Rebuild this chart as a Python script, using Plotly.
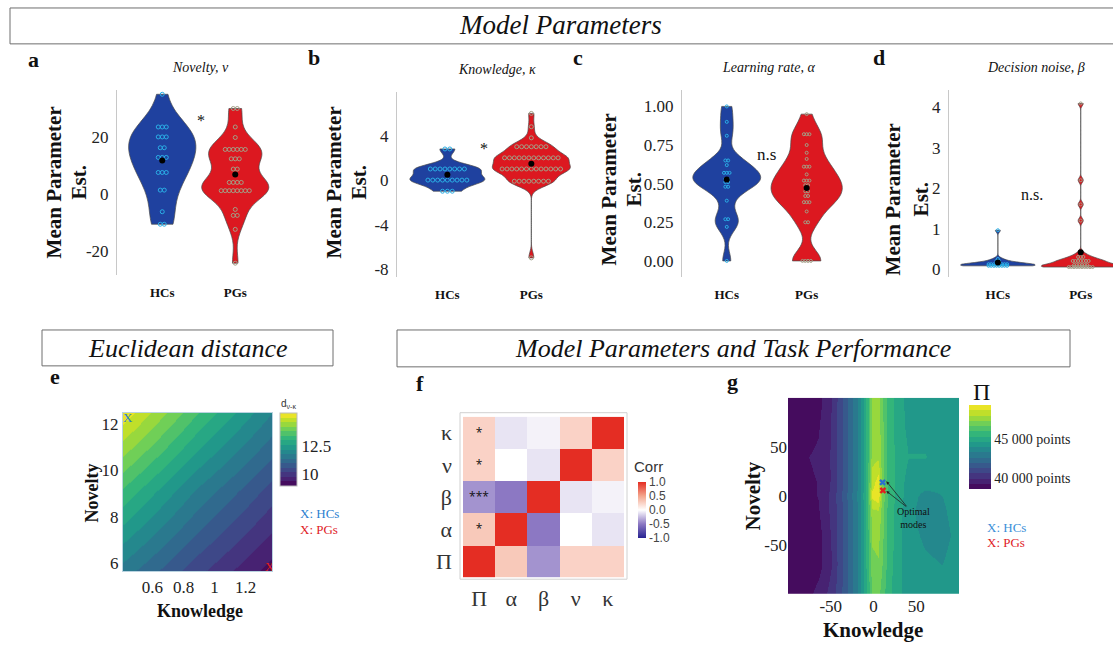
import plotly.graph_objects as go
from plotly.colors import sample_colorscale
from collections import Counter
import numpy as np

W, H = 1113, 645
SERIF = "Liberation Serif, Times New Roman, serif"
SANS = "Liberation Sans, Arial, sans-serif"

# ---------------- data ----------------
groups = ["HCs", "PGs"]

novelty_hc = [35.2, 23.7, 23.7, 23.7, 20.2, 20.2, 20.2, 16.4, 16.4, 13.0, 13.0, 13.0,
              7.7, 7.7, 7.7, 1.5, 1.5, -6.1, -10.5, -10.5]
novelty_pg = [30.2, 30.2, 23.7, 20.0, 15.8, 15.8, 15.8, 15.8, 15.8, 15.8, 12.5, 12.5, 12.5,
              8.9, 8.9, 4.2, 4.2, 4.2, 4.2, 1.3, 1.3, 1.3, 1.3, 1.3, 1.3, 1.3, 1.3,
              -5.3, -7.4, -7.4, -12.3, -24.2]

knowledge_hc = [2.8, 2.8] + [1.0] * 8 + [0.0] * 9 + [-1.0] * 3
knowledge_pg = [6.0, 4.8, 3.8] + [3.0] * 7 + [2.0] * 12 + [1.0] * 13 + [-0.1] * 8 + [-7.0]

lrate_hc = [1.0, 0.90, 0.81, 0.65, 0.65, 0.62, 0.57, 0.57, 0.57, 0.53, 0.53, 0.51, 0.51,
            0.48, 0.48, 0.39, 0.27, 0.27, 0.22, 0.0]
lrate_pg = [0.95, 0.82, 0.82, 0.82, 0.75, 0.70, 0.66, 0.61, 0.61, 0.61, 0.56, 0.52, 0.52,
            0.52, 0.49, 0.49, 0.45, 0.45, 0.42, 0.42, 0.38, 0.38, 0.38, 0.32, 0.25, 0.25,
            0.0, 0.0, 0.0, 0.0]

noise_hc = [0.96, 0.25, 0.2, 0.2] + [0.12] * 8 + [0.08] * 8
noise_pg = [4.1, 2.2, 1.6, 1.2, 0.4, 0.3, 0.3, 0.3] + [0.2] * 7 + [0.1] * 6 + [0.05] * 10

# panel e: euclidean distance surface (read at grid corners/midpoints)
e_knowledge = [0.41, 0.89, 1.37]
e_novelty = [5.66, 9.06, 12.47]
e_distance = [[11.6, 10.3, 9.2],
              [13.3, 11.7, 10.4],
              [15.3, 13.4, 11.8]]
e_hc_point = (0.44, 12.2)
e_pg_point = (1.355, 5.8)

# panel f: correlation matrix
corr_vars = ["Π", "α", "β", "ν", "κ"]
corr_values = [[1.00, 0.30, -0.40, 0.25, 0.25],
               [0.30, 1.00, -0.50, 0.00, -0.10],
               [-0.40, -0.50, 1.00, -0.10, -0.05],
               [0.25, 0.00, -0.10, 1.00, 0.25],
               [0.25, -0.10, -0.05, 0.25, 1.00]]
corr_stars = [["", "", "", "", ""],
              ["*", "", "", "", ""],
              ["***", "", "", "", ""],
              ["*", "", "", "", ""],
              ["*", "", "", "", ""]]

# panel g: performance landscape
g_knowledge = [-100, -82, -65, -50, -38, -27, -18, -12, -7, -2, 5, 10, 16, 25, 40, 60, 80, 100]
g_novelty = [-100, -70, -40, -15, 0, 15, 40, 70, 100]
g_points = [
    [38700, 38900, 39500, 40200, 41200, 42300, 43400, 44500, 45600, 46700, 46900, 46400, 45700, 45000, 44300, 44200, 44100, 44300],
    [38600, 38700, 39000, 39900, 41100, 42300, 43400, 44600, 45900, 47200, 47300, 46700, 45900, 45100, 44300, 44100, 44000, 44300],
    [38600, 38700, 39000, 40000, 41100, 42300, 43400, 44600, 46000, 47500, 47600, 46900, 46000, 45200, 44200, 43900, 43800, 44200],
    [38700, 38800, 39200, 40100, 41100, 42300, 43400, 44600, 46100, 47900, 48000, 47000, 46000, 45200, 44200, 43700, 43900, 44300],
    [38800, 39000, 39300, 40100, 41200, 42400, 43500, 44700, 46200, 48900, 49300, 47200, 46100, 45300, 44300, 43800, 44000, 44300],
    [38800, 39100, 39300, 40000, 41100, 42300, 43400, 44600, 46100, 48400, 49000, 47100, 46000, 45300, 44400, 44300, 44200, 44300],
    [38700, 39200, 39400, 40000, 41100, 42300, 43400, 44600, 46000, 47800, 47900, 47000, 46000, 45300, 44700, 44700, 44400, 44400],
    [38600, 38900, 39200, 40000, 41100, 42300, 43400, 44600, 46000, 47800, 47800, 46900, 46000, 45200, 44500, 44500, 44400, 44400],
    [38600, 38700, 39000, 39900, 41100, 42300, 43400, 44600, 45900, 47600, 47600, 46800, 45900, 45200, 44400, 44300, 44200, 44300],
]
g_hc_point = (10.6, 13.8)
g_pg_point = (11.0, 5.6)

# ---------------- helpers ----------------
def dxp(x0, x1):
    return [x0 / W, x1 / W]

def dyp(y0, y1):
    return [1 - y1 / H, 1 - y0 / H]

def px(x):
    return x / W

def py(y):
    return 1 - y / H


def stepped(name, n):
    cols = sample_colorscale(name, [(i + 0.5) / n for i in range(n)])
    cs = []
    for i, c in enumerate(cols):
        cs.append([i / n, c])
        cs.append([(i + 1) / n, c])
    return cs


BLUE = "#1f419f"
RED = "#dc1820"
DOT_HC = "#2aaee6"
DOT_PG = "#a39f86"

fig = go.Figure()


def axname(n):
    return ("x", "y") if n == 1 else (f"x{n}", f"y{n}")


def add_group(n, vals, xc, fill, dotc, width, bw, ddx, dsize=4):
    xa, ya = axname(n)
    fig.add_trace(go.Violin(
        x=[xc] * len(vals), y=vals, xaxis=xa, yaxis=ya, width=width, bandwidth=bw,
        spanmode="hard", fillcolor=fill, line=dict(color="#4a4a4a", width=0.7),
        points=False, box_visible=False, meanline_visible=False, scalemode="width",
        hoverinfo="skip", side="both"))
    cnt = Counter(vals)
    seen = {}
    xs = []
    for v in vals:
        i = seen.get(v, 0)
        seen[v] = i + 1
        xs.append(xc + (i - (cnt[v] - 1) / 2) * ddx)
    fig.add_trace(go.Scatter(x=xs, y=vals, xaxis=xa, yaxis=ya, mode="markers",
                             marker=dict(symbol="circle-open", size=dsize, color=dotc,
                                         line=dict(width=1, color=dotc)),
                             hoverinfo="skip"))
    fig.add_trace(go.Scatter(x=[xc], y=[float(np.mean(vals))], xaxis=xa, yaxis=ya,
                             mode="markers", marker=dict(size=6, color="black"),
                             hoverinfo="skip"))


# panel a
add_group(1, novelty_hc, 0, BLUE, DOT_HC, 0.92, 6.0, 0.055)
add_group(1, novelty_pg, 1, RED, DOT_PG, 0.92, 4.0, 0.055)
# panel b
add_group(2, knowledge_hc, 0, BLUE, DOT_HC, 0.89, 0.45, 0.058)
add_group(2, knowledge_pg, 1, RED, DOT_PG, 0.93, 0.5, 0.058)
# panel c
add_group(3, lrate_hc, 0, BLUE, DOT_HC, 0.85, 0.06, 0.035, 3)
add_group(3, lrate_pg, 1, RED, DOT_PG, 0.89, 0.07, 0.035, 3)
# panel d
add_group(4, noise_hc, 0, BLUE, DOT_HC, 0.90, 0.05, 0.032, 3)
add_group(4, noise_pg, 1, RED, DOT_PG, 0.95, 0.06, 0.032, 3)

# panel e (banded surface)
fig.add_trace(go.Heatmap(
    x=e_knowledge, y=e_novelty, z=e_distance, xaxis="x5", yaxis="y5",
    colorscale=stepped("Viridis", 16), zmin=9.0, zmax=15.4, zsmooth="best",
    hoverinfo="skip",
    colorbar=dict(x=px(280), xanchor="left", y=py(414), yanchor="top", len=73,
                  lenmode="pixels", thickness=17, xpad=0, ypad=0,
                  tickvals=[10, 12.5], ticktext=["10", "12.5"], ticks="",
                  tickfont=dict(family=SERIF, size=17, color="#222"),
                  outlinewidth=1, outlinecolor="#bbbbbb")))
fig.add_trace(go.Scatter(x=[e_hc_point[0]], y=[e_hc_point[1]], xaxis="x5", yaxis="y5",
                         mode="text", text=["X"], textfont=dict(family=SERIF, size=13, color="#2b7fd0"),
                         hoverinfo="skip"))
fig.add_trace(go.Scatter(x=[e_pg_point[0]], y=[e_pg_point[1]], xaxis="x5", yaxis="y5",
                         mode="text", text=["X"], textfont=dict(family=SERIF, size=13, color="#e0211f"),
                         hoverinfo="skip"))

# panel f
corr_scale = [[0.0, "rgb(40,35,145)"], [0.25, "rgb(140,120,195)"], [0.5, "rgb(255,255,255)"],
              [0.75, "rgb(244,165,140)"], [1.0, "rgb(228,45,35)"]]
fig.add_trace(go.Heatmap(
    z=corr_values, x=corr_vars, y=corr_vars, xaxis="x6", yaxis="y6",
    colorscale=corr_scale, zmin=-1, zmax=1, text=corr_stars, texttemplate="%{text}",
    textfont=dict(size=12, color="#111"), hoverinfo="skip",
    colorbar=dict(x=px(638), xanchor="left", y=py(483), yanchor="top", len=56,
                  lenmode="pixels", thickness=8, xpad=0, ypad=0, ticks="",
                  tickvals=[-1, -0.5, 0, 0.5, 1], ticktext=["-1.0", "-0.5", "0.0", "0.5", "1.0"],
                  tickfont=dict(family=SANS, size=12, color="#444"), outlinewidth=0)))

# panel g (banded surface)
fig.add_trace(go.Heatmap(
    x=g_knowledge, y=g_novelty, z=g_points, xaxis="x7", yaxis="y7",
    colorscale=stepped("Viridis", 16), zmin=38600, zmax=49400, zsmooth="best",
    hoverinfo="skip",
    colorbar=dict(x=px(969), xanchor="left", y=py(406), yanchor="top", len=84,
                  lenmode="pixels", thickness=22, xpad=0, ypad=0, ticks="",
                  tickvals=[40000, 45000], ticktext=["40 000 points", "45 000 points"],
                  tickfont=dict(family=SERIF, size=14, color="#222"), outlinewidth=0)))
fig.add_trace(go.Scatter(x=[g_hc_point[0]], y=[g_hc_point[1]], xaxis="x7", yaxis="y7",
                         mode="markers", marker=dict(symbol="x", size=6, color="#2b6fd0"),
                         hoverinfo="skip"))
fig.add_trace(go.Scatter(x=[g_pg_point[0]], y=[g_pg_point[1]], xaxis="x7", yaxis="y7",
                         mode="markers", marker=dict(symbol="x", size=6, color="#e0211f"),
                         hoverinfo="skip"))

# ---------------- axes ----------------
def cat_x(dom, rng):
    return dict(domain=dom, range=rng, tickvals=[0, 1], ticktext=["<b>HCs</b>", "<b>PGs</b>"],
                showline=False, showgrid=False, zeroline=False, ticks="",
                tickfont=dict(family=SERIF, size=13, color="#111"), ticklabelstandoff=8)


def val_y(dom, rng, tv, tt=None):
    d = dict(domain=dom, range=rng, tickvals=tv, showline=True, linecolor="#c8c8c8",
             linewidth=1, showgrid=False, zeroline=False, ticks="",
             tickfont=dict(family=SERIF, size=17, color="#222"), ticklabelstandoff=4)
    if tt:
        d["ticktext"] = tt
    return d


lay = dict(
    width=W, height=H, margin=dict(l=0, r=0, t=0, b=0), paper_bgcolor="white",
    plot_bgcolor="white", showlegend=False, violinmode="overlay",
)
lay["xaxis"] = dict(cat_x(dxp(117, 290), [-0.62, 1.75]), anchor="y")
lay["yaxis"] = dict(val_y(dyp(90, 276), [-28.4, 36.8], [-20, 0, 20], ["-20", "0", "20"]), anchor="x")
lay["xaxis2"] = dict(cat_x(dxp(397, 575), [-0.6, 1.52]), anchor="y2")
lay["yaxis2"] = dict(val_y(dyp(92, 278), [-8.73, 7.95], [-8, -4, 0, 4], ["-8", "-4", "0", "4"]), anchor="x2")
lay["xaxis3"] = dict(cat_x(dxp(682, 865), [-0.56, 1.73]), anchor="y3")
lay["yaxis3"] = dict(val_y(dyp(90, 278), [-0.105, 1.108], [0, 0.25, 0.5, 0.75, 1.0],
                           ["0.00", "0.25", "0.50", "0.75", "1.00"]), anchor="x3")
lay["xaxis4"] = dict(cat_x(dxp(949, 1113), [-0.59, 1.39]), anchor="y4")
lay["yaxis4"] = dict(val_y(dyp(90, 278), [-0.2, 4.44], [0, 1, 2, 3, 4]), anchor="x4")

lay["xaxis5"] = dict(domain=dxp(123, 272), range=[0.41, 1.37], anchor="y5",
                     tickvals=[0.6, 0.8, 1.0, 1.2], ticktext=["0.6", "0.8", "1", "1.2"],
                     showline=True, mirror=True, linecolor="#b9d3e0", showgrid=False,
                     zeroline=False, ticks="", tickfont=dict(family=SERIF, size=17, color="#222"))
lay["yaxis5"] = dict(domain=dyp(414, 573), range=[5.66, 12.47], anchor="x5",
                     tickvals=[6, 8, 10, 12], showline=True, mirror=True, linecolor="#b9d3e0",
                     showgrid=False, zeroline=False, ticks="",
                     tickfont=dict(family=SERIF, size=17, color="#222"))

lay["xaxis6"] = dict(domain=dxp(463, 624), range=[-0.5, 4.5], anchor="y6", type="category",
                     showline=False, showgrid=False, zeroline=False, ticks="",
                     tickfont=dict(family=SERIF, size=22, color="#333"), ticklabelstandoff=6)
lay["yaxis6"] = dict(domain=dyp(418, 579), range=[-0.5, 4.5], anchor="x6", type="category",
                     showline=False, showgrid=False, zeroline=False, ticks="",
                     tickfont=dict(family=SERIF, size=22, color="#333"), ticklabelstandoff=10)

lay["xaxis7"] = dict(domain=dxp(788, 959), range=[-100, 100], anchor="y7",
                     tickvals=[-50, 0, 50], ticktext=["-50", "0", "50"], showline=False,
                     showgrid=False, zeroline=False,
                     ticks="", tickfont=dict(family=SERIF, size=17, color="#222"))
lay["yaxis7"] = dict(domain=dyp(399, 596), range=[-100, 100], anchor="x7",
                     tickvals=[-50, 0, 50], ticktext=["-50", "0", "50"], showline=False,
                     showgrid=False, zeroline=False,
                     ticks="", tickfont=dict(family=SERIF, size=17, color="#222"))

fig.update_layout(**lay)

# ---------------- shapes ----------------
box_line = dict(color="#6e6e6e", width=1)
fig.add_shape(type="rect", xref="paper", yref="paper", x0=px(10), x1=px(1125),
              y0=py(44), y1=py(8), line=box_line)
fig.add_shape(type="rect", xref="paper", yref="paper", x0=px(42), x1=px(333),
              y0=py(367), y1=py(331), line=box_line)
fig.add_shape(type="rect", xref="paper", yref="paper", x0=px(397), x1=px(1070),
              y0=py(368), y1=py(331), line=box_line)
fig.add_shape(type="rect", xref="paper", yref="paper", x0=px(460), x1=px(627),
              y0=py(581), y1=py(414), line=dict(color="#d0d0d0", width=1))

# ---------------- annotations ----------------
def note(x, y, text, size, family=SERIF, color="#111", angle=0, xanchor="center"):
    fig.add_annotation(x=px(x), y=py(y), xref="paper", yref="paper", text=text,
                       showarrow=False, textangle=angle, xanchor=xanchor, yanchor="middle",
                       font=dict(family=family, size=size, color=color))


note(560, 25, "<i>Model Parameters</i>", 27)
note(188, 350, "<i>Euclidean distance</i>", 26)
note(733, 350, "<i>Model Parameters and Task Performance</i>", 26)

for lx, ly, lt in [(33, 60, "a"), (314, 58, "b"), (578, 58, "c"), (879, 58, "d"),
                   (55, 378, "e"), (420, 385, "f"), (732, 383, "g")]:
    note(lx, ly, f"<b>{lt}</b>", 22)

note(200, 68, "<i>Novelty, ν</i>", 14)
note(497, 70, "<i>Knowledge, κ</i>", 14)
note(768, 68, "<i>Learning rate, α</i>", 14)
note(1036, 68, "<i>Decision noise, β</i>", 14)

for (x1, x2, yc) in [(54, 79, 183), (334, 359, 183), (609, 634, 190), (893, 921, 200)]:
    note(x1, yc, "<b>Mean Parameter</b>", 21, angle=-90)
    note(x2, yc, "<b>Est.</b>", 21, angle=-90)

note(201, 121, "*", 16)
note(484, 149, "*", 16)
note(766, 155, "n.s", 17)
note(1032, 195, "n.s.", 16)

note(200, 613, "<b>Knowledge</b>", 18)
note(92, 495, "<b>Novelty</b>", 18, angle=-90)
note(289, 405, "d<sub>ν-κ</sub>", 10, family=SANS, color="#333")
note(298, 515, "X: HCs", 13, color="#2b7fd0", xanchor="left")
note(298, 531, "X: PGs", 13, color="#e0211f", xanchor="left")

note(648, 468, "Corr", 15, family=SANS, color="#333")

note(873, 632, "<b>Knowledge</b>", 21)
note(753, 498, "<b>Novelty</b>", 21, angle=-90)
note(981, 393, "Π", 24)
note(985, 529, "X: HCs", 13, color="#3b8fd8", xanchor="left")
note(985, 544, "X: PGs", 13, color="#e0211f", xanchor="left")

fig.add_annotation(x=47, y=-22, xref="x7", yref="y7", text="Optimal<br>modes", showarrow=False,
                   font=dict(family=SERIF, size=10, color="#111"))
for tx, ty in [(15, 15), (15, 5)]:
    fig.add_annotation(x=tx, y=ty, xref="x7", yref="y7", ax=40, ay=-12, axref="x7", ayref="y7",
                       text="", showarrow=True, arrowhead=2, arrowsize=0.8, arrowwidth=0.8,
                       arrowcolor="#222")

fig.write_html("out.html")
